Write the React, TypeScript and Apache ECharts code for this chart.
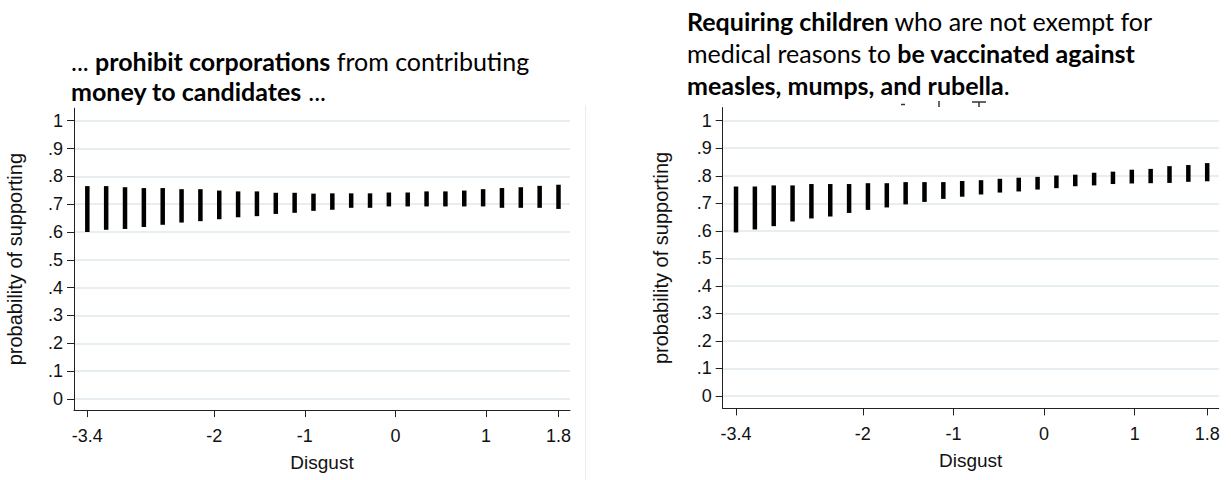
import React, { useEffect, useRef } from "react";
import * as echarts from "echarts";

const xValues = [-3.4, -3.192, -2.984, -2.776, -2.568, -2.36, -2.152, -1.944, -1.736, -1.528, -1.32, -1.112, -0.904, -0.696, -0.488, -0.28, -0.072, 0.136, 0.344, 0.552, 0.76, 0.968, 1.176, 1.384, 1.592, 1.8];

const leftHigh = [0.765, 0.765, 0.761, 0.758, 0.758, 0.754, 0.754, 0.749, 0.746, 0.746, 0.741, 0.741, 0.738, 0.739, 0.739, 0.739, 0.742, 0.742, 0.746, 0.746, 0.749, 0.754, 0.758, 0.761, 0.766, 0.770];
const leftLow = [0.600, 0.608, 0.611, 0.618, 0.626, 0.634, 0.639, 0.646, 0.653, 0.657, 0.665, 0.669, 0.676, 0.680, 0.687, 0.687, 0.692, 0.692, 0.692, 0.692, 0.692, 0.692, 0.687, 0.687, 0.687, 0.683];

const rightHigh = [0.761, 0.761, 0.765, 0.765, 0.770, 0.770, 0.770, 0.773, 0.773, 0.777, 0.777, 0.777, 0.781, 0.784, 0.789, 0.793, 0.796, 0.801, 0.804, 0.811, 0.815, 0.822, 0.825, 0.835, 0.839, 0.846];
const rightLow = [0.594, 0.605, 0.617, 0.634, 0.645, 0.652, 0.665, 0.676, 0.685, 0.696, 0.705, 0.716, 0.724, 0.732, 0.739, 0.743, 0.750, 0.755, 0.762, 0.765, 0.770, 0.772, 0.773, 0.774, 0.778, 0.780];

const yTicks = [0, 0.1, 0.2, 0.3, 0.4, 0.5, 0.6, 0.7, 0.8, 0.9, 1];
const xTicks = [-3.4, -2, -1, 0, 1, 1.8];

const xAxisTitle = "Disgust";
const yAxisTitle = "probability of supporting";

const leftTitle = "... {b|prohibit corporations} from contributing\n{b|money to candidates} ...";
const rightTitle = "{b|Requiring children} who are not exempt for\nmedical reasons to {b|be vaccinated against}\n{b|measles, mumps, and rubella}.";

const AXIS_FONT = "Liberation Sans";
const TITLE_FONT = "Lato";
const TICK_SIZE = 18;
const XNAME_SIZE = 19;
const YNAME_SIZE = 20;

const tickRich = { t: { fontFamily: AXIS_FONT, fontSize: TICK_SIZE, color: "#111" } };

function yFmt(v: number) {
  let s;
  if (Math.abs(v) < 1e-9) s = "0";
  else if (Math.abs(v - 1) < 1e-9) s = "1";
  else s = v.toFixed(1).replace(/^0/, "");
  return "{t|" + s + "}";
}

function xFmt(v: number) {
  return "{t|" + String(v) + "}";
}

function makeXAxis(gridIndex: number) {
  return {
    type: "value",
    gridIndex,
    min: -3.547,
    max: 1.927,
    name: xAxisTitle,
    nameLocation: "middle",
    nameGap: 43,
    nameTextStyle: { fontFamily: AXIS_FONT, fontSize: XNAME_SIZE, color: "#111" },
    axisLine: { show: true, onZero: false, lineStyle: { color: "#222", width: 1 } },
    axisTick: { show: true, customValues: xTicks, length: 7, lineStyle: { color: "#222" } },
    axisLabel: {
      customValues: xTicks,
      margin: 17,
      fontFamily: AXIS_FONT,
      fontSize: TICK_SIZE,
      color: "#111",
      formatter: xFmt,
      rich: tickRich,
    },
    splitLine: { show: false },
  };
}

function makeYAxis(gridIndex: number, min: number, max: number, gap: number) {
  return {
    type: "value",
    gridIndex,
    min,
    max,
    name: yAxisTitle,
    nameLocation: "middle",
    nameGap: gap,
    nameTextStyle: { fontFamily: AXIS_FONT, fontSize: YNAME_SIZE, color: "#111" },
    axisLine: { show: true, onZero: false, lineStyle: { color: "#222", width: 1 } },
    axisTick: { show: true, customValues: yTicks, length: 7, lineStyle: { color: "#222" } },
    axisLabel: {
      customValues: yTicks,
      margin: 11,
      fontFamily: AXIS_FONT,
      fontSize: TICK_SIZE,
      color: "#111",
      formatter: yFmt,
      rich: tickRich,
    },
    splitLine: { show: true, lineStyle: { color: "#e6eef1", width: 2 } },
  };
}

function renderSpike(_params: any, api: any) {
  const x = api.value(0);
  const lo = api.value(1);
  const hi = api.value(2);
  const pHi = api.coord([x, hi]);
  const pLo = api.coord([x, lo]);
  const w = 4.5;
  return {
    type: "rect",
    shape: { x: pHi[0] - w / 2, y: pHi[1], width: w, height: pLo[1] - pHi[1] },
    style: { fill: "#000" },
  };
}

export default function App() {
  const ref = useRef<HTMLDivElement>(null);
  useEffect(() => {
    if (!ref.current) return;
    const chart = echarts.init(ref.current, undefined, { renderer: "svg" });
    const leftData = xValues.map((x, i) => [x, leftLow[i], leftHigh[i]]);
    const rightData = xValues.map((x, i) => [x, rightLow[i], rightHigh[i]]);
    chart.setOption({
      animation: false,
      backgroundColor: "#fff",
      grid: [
        { left: 74, top: 108.2, width: 496, height: 301.9 },
        { left: 722.7, top: 107.5, width: 496, height: 300.9 },
      ],
      xAxis: [makeXAxis(0), makeXAxis(1)],
      yAxis: [makeYAxis(0, -0.04, 1.045, 49), makeYAxis(1, -0.045, 1.048, 52)],
      series: [
        {
          type: "custom",
          xAxisIndex: 0,
          yAxisIndex: 0,
          renderItem: renderSpike,
          encode: { x: 0, y: [1, 2] },
          data: leftData,
        },
        {
          type: "custom",
          xAxisIndex: 1,
          yAxisIndex: 1,
          renderItem: renderSpike,
          encode: { x: 0, y: [1, 2] },
          data: rightData,
        },
      ],
      graphic: [
        {
          type: "line",
          shape: { x1: 585.5, y1: 105, x2: 585.5, y2: 480 },
          style: { stroke: "#ececec", lineWidth: 1 },
        },
        {
          type: "text",
          x: 71,
          y: 46,
          style: {
            text: leftTitle,
            fontFamily: TITLE_FONT,
            fontSize: 25,
            lineHeight: 30,
            fill: "#000",
            rich: { b: { fontWeight: "bold", fontFamily: TITLE_FONT, fontSize: 25, lineHeight: 30, fill: "#000" } },
          },
        },
        {
          type: "text",
          x: 687,
          y: 5,
          style: {
            text: rightTitle,
            fontFamily: TITLE_FONT,
            fontSize: 25,
            lineHeight: 32,
            fill: "#000",
            rich: { b: { fontWeight: "bold", fontFamily: TITLE_FONT, fontSize: 25, lineHeight: 32, fill: "#000" } },
          },
        },
        {
          type: "line",
          shape: { x1: 901, y1: 104.5, x2: 905, y2: 104.5 },
          style: { stroke: "#333", lineWidth: 1.5 },
        },
        {
          type: "line",
          shape: { x1: 939, y1: 101, x2: 939, y2: 107 },
          style: { stroke: "#333", lineWidth: 1.5 },
        },
        {
          type: "line",
          shape: { x1: 972, y1: 102, x2: 986, y2: 102 },
          style: { stroke: "#333", lineWidth: 1.5 },
        },
        {
          type: "line",
          shape: { x1: 979, y1: 102, x2: 979, y2: 107 },
          style: { stroke: "#333", lineWidth: 1.5 },
        },
      ],
    });
    return () => chart.dispose();
  }, []);
  return (
    <div
      ref={ref}
      style={{ position: "absolute", left: 0, top: 0, width: 1231, height: 480 }}
    />
  );
}
